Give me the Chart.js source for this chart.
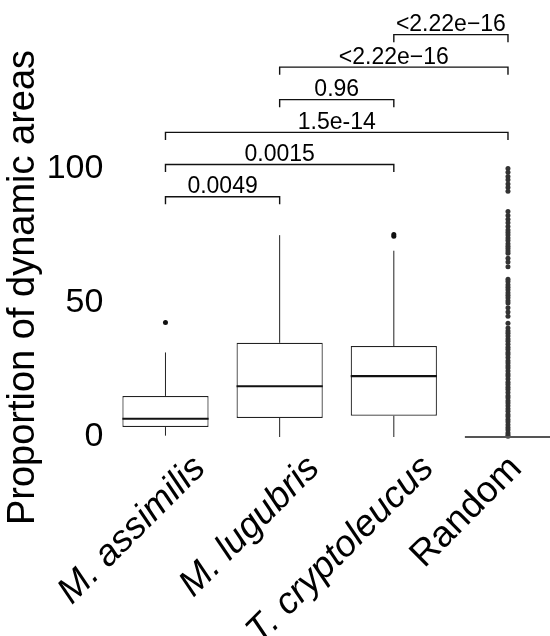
<!DOCTYPE html>
<html>
<head>
<meta charset="utf-8">
<style>
  html, body { margin: 0; padding: 0; background: #fff; }
</style>
<script src="https://cdn.jsdelivr.net/npm/chart.js@4.4.0/dist/chart.umd.min.js"></script>
</head>
<body>
<canvas id="chart" width="550" height="636"></canvas>
<script>
// groups and box statistics (proportion of dynamic areas, %)
const categories = ['M. assimilis', 'M. lugubris', 'T. cryptoleucus', 'Random'];
const whiskerLow = [0.5, 0, 0, 0];
const q1 = [3.7, 7.1, 7.9, 0];
const medians = [6.8, 18.9, 22.7, 0];
const q3 = [15.3, 35.1, 33.9, 0];
const whiskerHigh = [31.5, 75.2, 69.4, 0];

const outliersAssimilis = [42.7];
const outliersLugubris = [];
const outliersCryptoleucus = [74.8, 75.4];
const outliersRandom = [
  100, 98.6, 97.1, 95.8, 94.3, 93.0, 91.6,
  84.0, 82.5, 81.1, 79.8, 78.4,
  77.1, 76.2, 75.3, 74.1, 73.2, 72.0, 71.1, 70.2, 69.3, 68.5,
  66.6, 65.2, 63.4,
  58.8, 57.9, 56.7, 55.8, 54.9, 53.7, 52.8, 51.9, 50.8, 49.9,
  48.2, 46.6, 45.0,
  42.4,
  40.6, 39.5, 38.7, 37.6, 36.5, 35.7, 34.6, 33.4, 32.6, 31.5, 30.7,
  29.6, 28.4, 27.6, 26.5, 25.7, 24.6, 23.5, 22.7, 21.6, 20.4,
  19.6, 18.5, 17.7, 16.6, 15.4, 14.6, 13.5, 12.7, 11.6, 10.5,
  9.6, 8.4, 7.6, 6.5, 5.7, 4.6, 3.5, 2.7, 1.6, 0.8, 0.3
];
const outliers = [outliersAssimilis, outliersLugubris, outliersCryptoleucus, outliersRandom];

const yTicks = [0, 50, 100];

// pairwise comparisons: group indices, bracket height (data units), p-value label
const compFrom = [0, 0, 0, 1, 1, 2];
const compTo = [1, 2, 3, 2, 3, 3];
const compLevel = [89.5, 101.5, 113.5, 125.7, 137.8, 149.9];
const compLabels = ['0.0049', '0.0015', '1.5e-14', '0.96', '<2.22e\u221216', '<2.22e\u221216'];

const FONT = "'Liberation Sans', Arial, sans-serif";
// italic species names sit a little further right of their group than "Random"
const labelNudge = [0.3, 0.3, 0.3, 0.07];

const boxExtras = {
  id: 'boxExtras',
  beforeDatasetsDraw(chart) {
    const { ctx, scales: { x, y } } = chart;
    const boxes = chart.getDatasetMeta(0).data;
    ctx.save();
    // whiskers
    ctx.strokeStyle = '#222';
    ctx.lineWidth = 1;
    categories.forEach((c, i) => {
      if (whiskerHigh[i] === q3[i] && whiskerLow[i] === q1[i]) return;
      const px = boxes[i].x;
      ctx.beginPath();
      ctx.moveTo(px, y.getPixelForValue(q3[i]));
      ctx.lineTo(px, y.getPixelForValue(whiskerHigh[i]));
      ctx.moveTo(px, y.getPixelForValue(q1[i]));
      ctx.lineTo(px, y.getPixelForValue(whiskerLow[i]));
      ctx.stroke();
    });
    // significance brackets
    ctx.strokeStyle = '#111';
    ctx.lineWidth = 1.4;
    ctx.fillStyle = '#000';
    ctx.font = '23px ' + FONT;
    ctx.textAlign = 'center';
    ctx.textBaseline = 'alphabetic';
    compLabels.forEach((lab, k) => {
      const x1 = x.getPixelForValue(compFrom[k] + 1);
      const x2 = x.getPixelForValue(compTo[k] + 1);
      const yb = y.getPixelForValue(compLevel[k]);
      const yt = y.getPixelForValue(compLevel[k] - 2.8);
      ctx.beginPath();
      ctx.moveTo(x1, yt);
      ctx.lineTo(x1, yb);
      ctx.lineTo(x2, yb);
      ctx.lineTo(x2, yt);
      ctx.stroke();
      ctx.fillText(lab, (x1 + x2) / 2, yb - 3.5);
    });
    ctx.restore();
  },
  afterDatasetDraw(chart, args) {
    if (args.index !== 0) return;
    const { ctx, scales: { y } } = chart;
    const boxes = chart.getDatasetMeta(0).data;
    ctx.save();
    categories.forEach((c, i) => {
      const b = boxes[i];
      const py = y.getPixelForValue(medians[i]);
      ctx.strokeStyle = q1[i] === q3[i] ? '#555' : '#111';
      ctx.lineWidth = 2.2;
      ctx.beginPath();
      ctx.moveTo(b.x - b.width / 2, py);
      ctx.lineTo(b.x + b.width / 2, py);
      ctx.stroke();
    });
    ctx.restore();
  }
};

const xRange = { min: 0.5, max: 4.333 };

new Chart(document.getElementById('chart'), {
  type: 'bar',
  data: {
    datasets: [
      {
        type: 'bar',
        data: categories.map((c, i) => ({ x: i + 1, y: [q1[i], q3[i]] })),
        backgroundColor: '#fff',
        borderColor: '#222',
        borderWidth: 1.2,
        borderSkipped: false,
        barPercentage: 0.755,
        categoryPercentage: 1,
        clip: false
      },
      {
        type: 'scatter',
        data: outliers.flatMap((vals, i) => vals.map(v => ({ x: i + 1, y: v }))),
        pointRadius: 2.5,
        pointBackgroundColor: (ctx) => (ctx.raw && ctx.raw.x === 4 ? '#333' : '#111'),
        pointBorderWidth: 0,
        clip: false
      }
    ]
  },
  options: {
    responsive: false,
    animation: false,
    devicePixelRatio: 1,
    layout: { padding: { top: 138, left: 0, right: 0, bottom: 0 } },
    plugins: { legend: { display: false }, tooltip: { enabled: false } },
    scales: {
      x: {
        type: 'linear',
        display: false,
        offset: false,
        ...xRange,
        afterBuildTicks: (scale) => { scale.ticks = categories.map((c, i) => ({ value: i + 1 })); }
      },
      xLabels: {
        type: 'linear',
        axis: 'x',
        position: 'bottom',
        offset: false,
        ...xRange,
        grid: { display: false, offset: false },
        border: { display: false },
        afterBuildTicks: (scale) => {
          scale.ticks = categories.map((c, i) => ({ value: i + 1 + labelNudge[i] }));
        },
        afterFit: (scale) => {
          scale.height = 199;
          scale.paddingLeft = 0;
          scale.paddingRight = 0;
        },
        ticks: {
          autoSkip: false,
          maxRotation: 45,
          minRotation: 45,
          padding: 2,
          color: '#000',
          font: (ctx) => ({ family: FONT, size: 37, style: ctx.index < 3 ? 'italic' : 'normal' }),
          callback: (v, i) => categories[i]
        }
      },
      y: {
        min: 0,
        max: 111.4,
        grid: { display: false, drawTicks: false },
        border: { display: false },
        afterBuildTicks: (scale) => { scale.ticks = yTicks.map(v => ({ value: v })); },
        afterFit: (scale) => { scale.width = 108.4; },
        ticks: {
          padding: 5,
          color: '#000',
          font: { family: FONT, size: 34 }
        },
        title: {
          display: true,
          text: 'Proportion of dynamic areas',
          color: '#000',
          font: { family: FONT, size: 38 },
          padding: { top: 1, bottom: 0 }
        }
      }
    }
  },
  plugins: [boxExtras]
});
</script>
</body>
</html>
